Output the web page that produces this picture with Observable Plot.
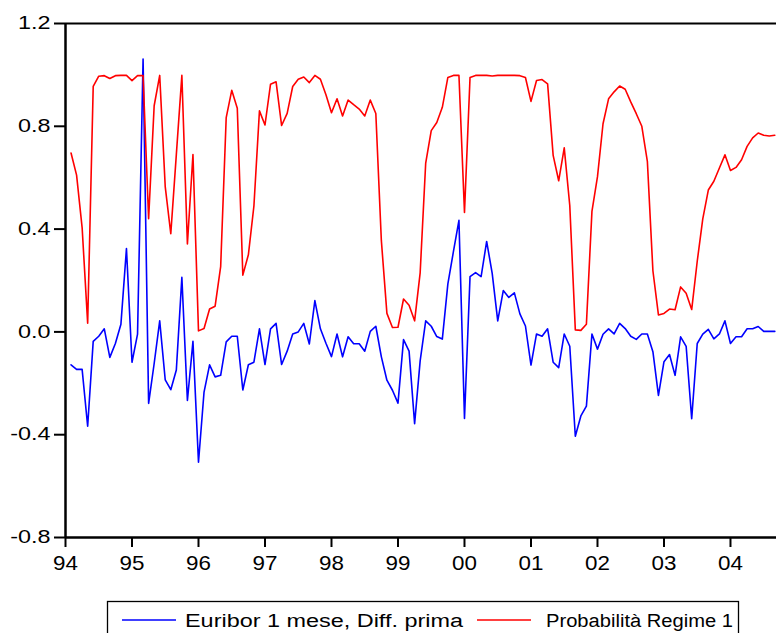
<!DOCTYPE html>
<html><head><meta charset="utf-8">
<script src="https://cdn.jsdelivr.net/npm/d3@7"></script>
<script src="https://cdn.jsdelivr.net/npm/@observablehq/plot@0.6"></script>
<style>
body{margin:0;background:#fff;font-family:"Liberation Sans",Arial,sans-serif;}
#chart svg{display:block;}
</style></head><body><div id="chart"></div><div id="legend"></div>
<script>
// monthly observations, first one = Feb 1994 (first difference)
const startYear = 1994;
const startMonthIndex = 1;
const euribor = [
-0.128,-0.146,-0.146,-0.367,-0.037,-0.017,0.012,-0.099,-0.045,0.03,0.324,-0.118,
-0.009,1.062,-0.278,-0.123,0.043,-0.187,-0.225,-0.148,0.212,-0.267,-0.037,-0.507,
-0.234,-0.128,-0.175,-0.169,-0.039,-0.017,-0.017,-0.226,-0.128,-0.118,0.012,-0.127,
0.012,0.033,-0.127,-0.075,-0.008,0.0,0.033,-0.047,0.122,0.012,-0.044,-0.096,
-0.008,-0.097,-0.019,-0.046,-0.046,-0.075,0.002,0.022,-0.097,-0.188,-0.227,-0.277,
-0.03,-0.075,-0.357,-0.113,0.043,0.022,-0.018,-0.028,0.187,0.312,0.434,-0.337,
0.215,0.231,0.215,0.352,0.228,0.043,0.161,0.134,0.152,0.07,0.023,-0.129,
-0.008,-0.017,0.012,-0.118,-0.139,-0.008,-0.056,-0.406,-0.327,-0.289,-0.008,-0.067,
-0.009,0.012,-0.008,0.033,0.013,-0.017,-0.029,-0.008,-0.008,-0.077,-0.247,-0.116,
-0.088,-0.169,-0.019,-0.056,-0.338,-0.045,-0.009,0.01,-0.027,-0.008,0.043,-0.045,
-0.019,-0.019,0.012,0.012,0.021,0.002,0.002,0.002
];
const regime = [
0.696,0.61,0.406,0.034,0.955,0.995,0.997,0.986,0.997,0.998,0.998,0.978,
0.997,0.997,0.44,0.88,0.998,0.564,0.382,0.69,0.998,0.342,0.69,0.004,
0.013,0.089,0.10,0.254,0.834,0.94,0.87,0.221,0.30,0.49,0.86,0.805,
0.964,0.973,0.803,0.85,0.955,0.983,0.992,0.97,0.998,0.983,0.923,0.853,
0.907,0.84,0.902,0.884,0.867,0.84,0.902,0.85,0.355,0.072,0.017,0.018,
0.128,0.104,0.043,0.23,0.657,0.783,0.815,0.874,0.99,0.998,0.998,0.465,
0.99,0.998,0.998,0.998,0.996,0.998,0.998,0.998,0.998,0.997,0.99,0.897,
0.978,0.982,0.965,0.687,0.588,0.716,0.492,0.008,0.006,0.03,0.469,0.604,
0.81,0.907,0.934,0.957,0.944,0.895,0.849,0.80,0.664,0.238,0.066,0.072,
0.089,0.086,0.175,0.15,0.087,0.275,0.44,0.552,0.586,0.638,0.689,0.628,
0.64,0.67,0.722,0.755,0.774,0.765,0.762,0.765
];
const xTicks = [1994,1995,1996,1997,1998,1999,2000,2001,2002,2003,2004];
const yTicks = [-0.8,-0.4,0,0.4,0.8,1.2];
const seriesNames = ["Euribor 1 mese, Diff. prima","Probabilità Regime 1"];
const seriesColors = ["#0000ff","#ff0000"];

const rows = [];
euribor.forEach((v,i)=>rows.push({t:startYear+(startMonthIndex+i)/12, v, s:seriesNames[0]}));
regime.forEach((v,i)=>rows.push({t:startYear+(startMonthIndex+i)/12, v, s:seriesNames[1]}));

const W = 776, H = 590;
const chart = Plot.plot({
  width: W, height: H,
  marginLeft: 65, marginRight: 0, marginTop: 23, marginBottom: 53,
  style: {fontFamily:"'Liberation Sans', Arial, sans-serif", fontSize:"18px", color:"#000", background:"#fff", overflow:"visible"},
  x: {domain:[1994, 2004.692], ticks:xTicks, tickFormat:d=>String(d%100).padStart(2,"0"), tickSize:10, tickPadding:8, label:null},
  y: {domain:[-0.8,1.2], ticks:yTicks, tickFormat:d=>d.toFixed(1), tickSize:11, tickPadding:4, label:null},
  color: {domain:seriesNames, range:seriesColors},
  marks: [
    Plot.lineY(rows, {x:"t", y:"v", z:"s", stroke:"s", strokeWidth:1.6}),
    Plot.ruleY([1.2], {stroke:"#000", strokeWidth:2.2}),
    Plot.ruleY([-0.8], {stroke:"#000", strokeWidth:2.5}),
    Plot.ruleX([1994], {stroke:"#000", strokeWidth:2.5})
  ]
});
document.getElementById("chart").appendChild(chart);

// horizontally stretched labels, as in the original rendering
function stretch(sel, s, anchor, size){
  chart.querySelectorAll(sel).forEach(t=>{
    if (size) t.setAttribute("font-size", size);
    const b = t.getBBox();
    const ax = anchor==="end" ? b.x+b.width : b.x+b.width/2;
    const tr = t.getAttribute("transform")||"";
    t.setAttribute("transform", `${tr} translate(${ax},0) scale(${s},1) translate(${-ax},0)`);
  });
}
const yLabelSel = 'g[aria-label="y-axis tick label"] text, g[aria-label="y-axis"] .tick text';
const xLabelSel = 'g[aria-label="x-axis tick label"] text, g[aria-label="x-axis"] .tick text';
stretch(yLabelSel, 1.3, "end", 18);
stretch(xLabelSel, 1.12, "middle", 20);
chart.querySelectorAll('g[aria-label="x-axis tick"] path, g[aria-label="y-axis tick"] path, g[aria-label="x-axis"] .tick line, g[aria-label="y-axis"] .tick line')
  .forEach(p=>{p.setAttribute("stroke-width","2");});

// legend below the plot
const ns = "http://www.w3.org/2000/svg";
const lg = document.createElementNS(ns,"svg");
lg.setAttribute("width",W); lg.setAttribute("height",43);
lg.style.display="block";
lg.innerHTML = `<rect x="107.5" y="11.5" width="631" height="60" fill="none" stroke="#000" stroke-width="1.3"/>`;
const items = [
  {x1:122,x2:176,tx:185,tl:278},
  {x1:477,x2:531,tx:546,tl:187}
];
seriesNames.forEach((name,i)=>{
  const it = items[i];
  const ln = document.createElementNS(ns,"line");
  ln.setAttribute("x1",it.x1); ln.setAttribute("x2",it.x2);
  ln.setAttribute("y1",30); ln.setAttribute("y2",30);
  ln.setAttribute("stroke",seriesColors[i]); ln.setAttribute("stroke-width",1.6);
  lg.appendChild(ln);
  const tx = document.createElementNS(ns,"text");
  tx.setAttribute("x",it.tx); tx.setAttribute("y",37);
  tx.setAttribute("font-family","'Liberation Sans', Arial, sans-serif");
  tx.setAttribute("font-size","18");
  tx.setAttribute("textLength",it.tl);
  tx.setAttribute("lengthAdjust","spacingAndGlyphs");
  tx.textContent = name;
  lg.appendChild(tx);
});
document.getElementById("legend").appendChild(lg);
</script></body></html>
